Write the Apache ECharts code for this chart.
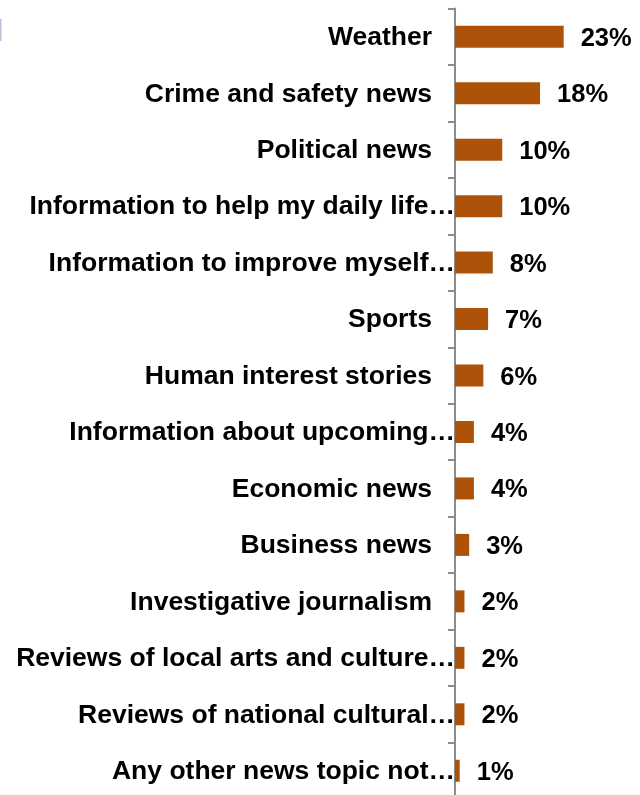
<!DOCTYPE html>
<html>
<head>
<meta charset="utf-8">
<title>News topics</title>
<script src="https://cdn.jsdelivr.net/npm/echarts@6/dist/echarts.min.js"></script>
<style>
  html, body { margin: 0; padding: 0; background: #ffffff; }
  #chart { width: 640px; height: 795px; }
</style>
</head>
<body>
<div id="chart"></div>
<script>
// Topics, listed top to bottom
const topics = [
  'Weather',
  'Crime and safety news',
  'Political news',
  'Information to help my daily life…',
  'Information to improve myself…',
  'Sports',
  'Human interest stories',
  'Information about upcoming…',
  'Economic news',
  'Business news',
  'Investigative journalism',
  'Reviews of local arts and culture…',
  'Reviews of national cultural…',
  'Any other news topic not…'
];

// Share of respondents (%)
const shares = [23, 18, 10, 10, 8, 7, 6, 4, 4, 3, 2, 2, 2, 1];

const FONT = '"Liberation Sans", Arial, sans-serif';

const chart = echarts.init(document.getElementById('chart'), null, { renderer: 'canvas' });

chart.setOption({
  animation: false,
  backgroundColor: '#ffffff',
  graphic: [{
    type: 'rect',
    left: 0,
    top: 19,
    shape: { width: 1.5, height: 22 },
    style: { fill: '#b9c1d9' }
  }],
  grid: {
    left: 455,
    top: 8.5,
    width: 189,
    height: 790.5,
    containLabel: false,
    outerBoundsMode: 'none'
  },
  xAxis: {
    type: 'value',
    min: 0,
    max: 40,
    show: false
  },
  yAxis: {
    type: 'category',
    data: topics,
    inverse: true,
    axisLine: { show: true, lineStyle: { color: '#8c8c8c', width: 2 } },
    axisTick: { show: true, length: 7, lineStyle: { color: '#8c8c8c', width: 2 } },
    axisLabel: {
      interval: 0,
      margin: 0,
      color: '#000000',
      fontSize: 26.5,
      fontWeight: 'bold',
      fontFamily: FONT,
      formatter: function (v) {
        return v.endsWith('…') ? '{cut|' + v + '}' : '{full|' + v + '}';
      },
      rich: {
        cut: { fontSize: 26.5, fontWeight: 'bold', fontFamily: FONT, color: '#000000', padding: [2, 0, 0, 0] },
        full: { fontSize: 26.5, fontWeight: 'bold', fontFamily: FONT, color: '#000000', padding: [2, 23, 0, 0] }
      }
    },
    splitLine: { show: false }
  },
  series: [{
    type: 'bar',
    data: shares,
    barWidth: 22,
    itemStyle: { color: '#ad5309' },
    label: {
      show: true,
      position: 'right',
      distance: 17,
      offset: [0, 2],
      formatter: '{c}%',
      color: '#000000',
      fontSize: 25.5,
      fontWeight: 'bold',
      fontFamily: FONT
    }
  }]
});
</script>
</body>
</html>
